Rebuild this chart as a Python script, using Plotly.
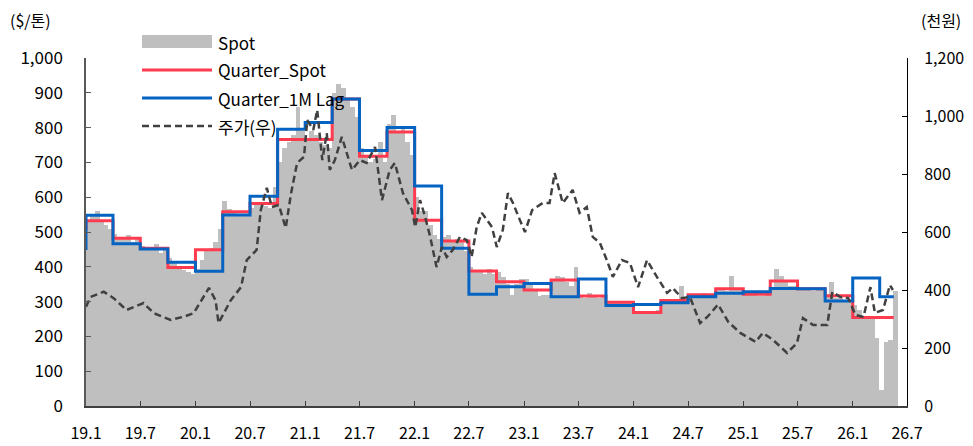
import pandas as pd
import plotly.graph_objects as go

# ---------------- data ----------------
# Spot ($/ton), two readings per month (approx. 8th and 23rd), Jan-2019 .. May-2026
spot_values = [
    530, 545, 560, 535, 520, 510, 495, 485, 480, 490, 470, 480,   # 2019 H1
    460, 450, 455, 465, 440, 455, 425, 410, 400, 390, 385, 380,   # 2019 H2
    395, 420, 445, 455, 470, 510, 590, 565, 555, 550, 545, 545,   # 2020 H1
    570, 585, 580, 575, 570, 630, 700, 740, 760, 780, 860, 790,   # 2020 H2
    770, 790, 780, 760, 750, 740, 900, 925, 915, 880, 860, 830,   # 2021 H1
    740, 720, 700, 710, 760, 700, 810, 835, 790, 800, 760, 720,   # 2021 H2
    600, 560, 560, 520, 490, 480, 485, 490, 475, 480, 470, 445,   # 2022 H1
    400, 390, 385, 380, 395, 380, 385, 370, 350, 320, 350, 365,   # 2022 H2
    365, 350, 330, 315, 320, 320, 360, 375, 370, 355, 345, 400,   # 2023 H1
    320, 310, 325, 315, 310, 315, 300, 295, 295, 300, 295, 300,   # 2023 H2
    270, 265, 265, 270, 270, 275, 295, 300, 300, 305, 345, 300,   # 2024 H1
    315, 320, 320, 325, 320, 320, 335, 340, 330, 375, 335, 340,   # 2024 H2
    320, 325, 325, 315, 315, 325, 340, 395, 375, 360, 345, 345,   # 2025 H1
    340, 335, 340, 330, 340, 335, 320, 355, 310, 320, 305, 295,   # 2025 H2
    290, 275, 260, 250, 255, 195, 45, 185, 190, 330,              # 2026 Jan-May
]
spot_months = pd.date_range("2019-01-01", periods=len(spot_values) // 2, freq="MS")
spot_dates = []
for m in spot_months:
    spot_dates += [m + pd.Timedelta(days=7), m + pd.Timedelta(days=22)]

# Quarterly series ($/ton), quarter starts 2019Q1 .. 2026Q2, plus series end
quarter_dates = list(pd.date_range("2019-01-01", "2026-04-01", freq="QS")) + [pd.Timestamp("2026-05-18")]
quarter_spot = [532, 482, 453, 398, 449, 558, 582, 766, 766, 882, 718, 787,
                534, 474, 388, 357, 333, 362, 316, 298, 269, 303, 320, 337,
                321, 359, 337, 317, 254, 254]
quarter_lag = [548, 466, 451, 413, 387, 549, 603, 795, 815, 882, 734, 800,
               632, 453, 321, 343, 352, 314, 365, 289, 292, 297, 314, 324,
               328, 338, 337, 302, 368, 314]
quarter_spot_start = 505   # value just before the first quarter
quarter_lag_start = 448

# Share price (thousand won, right axis)
stock_dates = [
    "2019-01-01", "2019-01-16", "2019-03-01", "2019-04-03", "2019-05-16", "2019-07-12",
    "2019-08-15", "2019-10-10", "2019-11-23", "2019-12-26", "2020-02-15", "2020-03-08",
    "2020-03-18", "2020-04-28", "2020-06-01", "2020-06-20", "2020-07-23", "2020-08-06",
    "2020-08-26", "2020-09-12", "2020-10-05", "2020-10-28", "2020-11-15", "2020-12-05",
    "2020-12-28", "2021-01-08", "2021-01-28", "2021-02-10", "2021-02-27", "2021-03-14",
    "2021-03-24", "2021-04-10", "2021-05-03", "2021-05-20", "2021-06-06", "2021-07-02",
    "2021-07-25", "2021-08-22", "2021-09-14", "2021-10-10", "2021-10-27", "2021-11-23",
    "2021-12-23", "2022-01-03", "2022-01-19", "2022-02-05", "2022-02-22", "2022-03-15",
    "2022-04-02", "2022-04-18", "2022-05-08", "2022-06-01", "2022-06-24", "2022-07-10",
    "2022-07-27", "2022-08-13", "2022-08-30", "2022-09-16", "2022-10-02", "2022-10-22",
    "2022-11-08", "2022-11-25", "2022-12-18", "2023-01-04", "2023-01-28", "2023-03-04",
    "2023-03-27", "2023-04-13", "2023-05-10", "2023-06-12", "2023-07-05", "2023-07-29",
    "2023-08-18", "2023-09-11", "2023-10-04", "2023-10-24", "2023-11-23", "2023-12-20",
    "2024-01-16", "2024-02-15", "2024-03-19", "2024-04-22", "2024-05-11", "2024-06-10",
    "2024-07-07", "2024-08-10", "2024-09-03", "2024-10-09", "2024-11-12", "2024-12-22",
    "2025-02-11", "2025-03-07", "2025-04-10", "2025-05-27", "2025-06-29", "2025-07-19",
    "2025-08-22", "2025-10-08", "2025-10-25", "2025-11-21", "2025-12-17", "2026-01-10",
    "2026-02-06", "2026-03-01", "2026-03-16", "2026-04-12", "2026-05-05", "2026-05-15",
]
stock_values = [
    342, 376, 394, 372, 331, 355,
    320, 297, 308, 320, 407, 365,
    286, 365, 410, 503, 538, 676,
    752, 686, 693, 614, 734, 838,
    859, 986, 952, 1021, 848, 941,
    814, 848, 928, 872, 814, 848,
    838, 893, 710, 814, 838, 734,
    676, 617, 710, 652, 583, 479,
    548, 514, 538, 583, 572, 514,
    617, 666, 641, 617, 548, 607,
    734, 700, 641, 600, 676, 700,
    700, 803, 700, 745, 666, 686,
    583, 562, 503, 445, 503, 493,
    410, 503, 445, 390, 407, 372,
    376, 286, 307, 350, 290, 252,
    221, 252, 228, 183, 217, 303,
    279, 279, 393, 376, 372, 314,
    307, 410, 321, 331, 417, 400,
]

tick_dates = list(pd.date_range("2019-01-01", "2026-07-01", freq="6MS"))
tick_labels = ["19.1", "19.7", "20.1", "20.7", "21.1", "21.7", "22.1", "22.7",
               "23.1", "23.7", "24.1", "24.7", "25.1", "25.7", "26.1", "26.7"]

legend_names = ["Spot", "Quarter_Spot", "Quarter_1M Lag", "주가(우)"]

# ---------------- figure ----------------
FONT = "Noto Sans CJK KR"
GRAY = "#BFBFBF"
RED = "#FF3B50"
BLUE = "#0563C1"
DARK = "#404040"

# page offset of the figure (default body margin) and target plot box in page pixels
OFF = 8
FIG_W, FIG_H = 973 - OFF, 446 - OFF
L, T, R, B = 86 - OFF, 58 - OFF, 907 - OFF, 406 - OFF
W, H = R - L, B - T


def px(x_page):
    return (x_page - OFF - L) / W


def py(y_page):
    return (B - (y_page - OFF)) / H


fig = go.Figure()

fig.add_trace(go.Bar(
    x=spot_dates, y=spot_values, name=legend_names[0],
    marker=dict(color=GRAY, line=dict(width=0)),
    width=16 * 24 * 3600 * 1000, showlegend=False,
))
fig.add_trace(go.Scatter(
    x=[quarter_dates[0]] + quarter_dates, y=[quarter_spot_start] + quarter_spot + [quarter_spot[-1]],
    name=legend_names[1], mode="lines", line=dict(color=RED, width=3, shape="hv"),
    showlegend=False,
))
fig.add_trace(go.Scatter(
    x=[quarter_dates[0]] + quarter_dates, y=[quarter_lag_start] + quarter_lag + [quarter_lag[-1]],
    name=legend_names[2], mode="lines", line=dict(color=BLUE, width=3, shape="hv"),
    showlegend=False,
))
fig.add_trace(go.Scatter(
    x=stock_dates, y=stock_values, name=legend_names[3], yaxis="y2",
    mode="lines", line=dict(color=DARK, width=2.5, dash="7px,4px"),
    showlegend=False,
))

# manual legend (paper coordinates)
legend_rows = [42, 70, 98, 126]
fig.add_shape(type="rect", xref="paper", yref="paper",
              x0=px(142), x1=px(212), y0=py(48), y1=py(35),
              fillcolor=GRAY, line=dict(width=0))
fig.add_shape(type="line", xref="paper", yref="paper",
              x0=px(142), x1=px(212), y0=py(legend_rows[1]), y1=py(legend_rows[1]),
              line=dict(color=RED, width=3))
fig.add_shape(type="line", xref="paper", yref="paper",
              x0=px(142), x1=px(212), y0=py(legend_rows[2]), y1=py(legend_rows[2]),
              line=dict(color=BLUE, width=3))
fig.add_shape(type="line", xref="paper", yref="paper",
              x0=px(142), x1=px(212), y0=py(legend_rows[3]), y1=py(legend_rows[3]),
              line=dict(color=DARK, width=2.5, dash="7px,4px"))
for name, row in zip(legend_names, legend_rows):
    fig.add_annotation(text=name, xref="paper", yref="paper", x=px(216), y=py(row),
                       xanchor="left", yanchor="middle", showarrow=False,
                       font=dict(family=FONT, size=17, color="#000000"))

fig.add_annotation(text="($/톤)", xref="paper", yref="paper", x=px(9), y=py(20),
                   xanchor="left", yanchor="middle", showarrow=False, borderpad=0,
                   font=dict(family=FONT, size=16, color="#000000"))
fig.add_annotation(text="(천원)", xref="paper", yref="paper", x=px(962), y=py(20),
                   xanchor="right", yanchor="middle", showarrow=False, borderpad=0,
                   font=dict(family=FONT, size=16, color="#000000"))

fig.update_layout(
    width=FIG_W, height=FIG_H,
    margin=dict(l=L, r=FIG_W - R, t=T, b=FIG_H - B, pad=0),
    paper_bgcolor="white", plot_bgcolor="white",
    bargap=0, barmode="overlay",
    font=dict(family=FONT, color="#000000"),
    xaxis=dict(
        type="date", range=["2019-01-01", "2026-07-01"], automargin=False,
        tickvals=tick_dates, ticktext=tick_labels,
        ticks="inside", ticklen=5, tickcolor=DARK, tickwidth=1,
        showline=True, linecolor=DARK, linewidth=1.5,
        showgrid=False, zeroline=False,
        tickfont=dict(family=FONT, size=16, color="#000000"),
        ticklabelstandoff=12,
    ),
    yaxis=dict(
        range=[0, 1000], dtick=100, tickformat=",", automargin=False,
        ticks="inside", ticklen=5, tickcolor="#595959",
        showline=True, linecolor="#595959", linewidth=1.5,
        showgrid=False, zeroline=False,
        tickfont=dict(family=FONT, size=17, color="#000000"),
        ticklabelstandoff=18,
    ),
    yaxis2=dict(
        range=[0, 1200], dtick=200, tickformat=",", automargin=False,
        overlaying="y", side="right",
        ticks="inside", ticklen=5, tickcolor="#000000",
        showline=True, linecolor="#000000", linewidth=1,
        showgrid=False, zeroline=False,
        tickfont=dict(family=FONT, size=16, color="#000000"),
        ticklabelstandoff=13,
    ),
)

fig.write_html("out.html")
